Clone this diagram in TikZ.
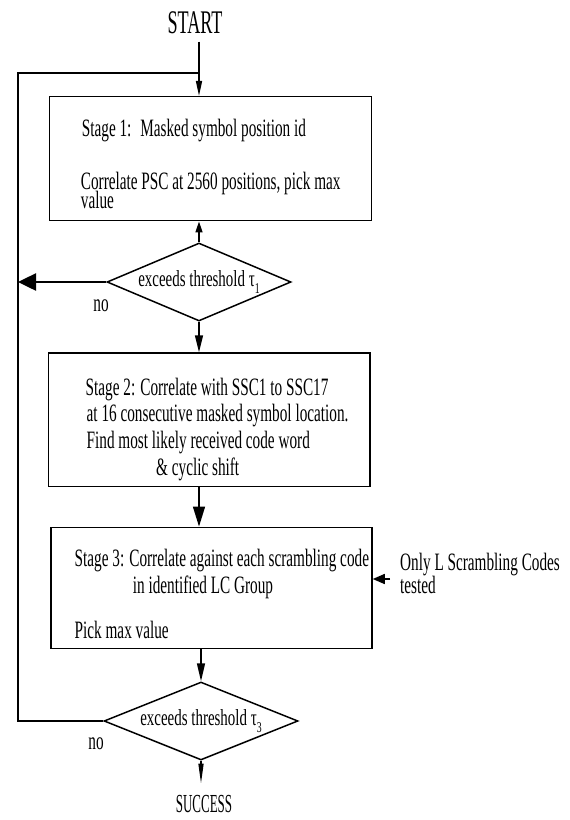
\documentclass[tikz,border=0pt]{standalone}
\usepackage{fontspec}
\setmainfont{Liberation Serif}
\newfontfamily\boxf[FakeStretch=0.61]{Liberation Serif}
\newfontfamily\dmf[FakeStretch=0.65]{Liberation Serif}
\newfontfamily\stf[FakeStretch=0.55]{Liberation Serif}
\newfontfamily\scf[FakeStretch=0.5]{Liberation Serif}
\usetikzlibrary{shapes.geometric,arrows.meta}
\newcommand\lowsub[1]{\raisebox{-0.3em}{\fontsize{15}{15}\selectfont #1}}
\begin{document}
\begin{tikzpicture}[x=1pt,y=-1pt,
  ln/.style={line width=1.5pt},
  box/.style={draw,ln,rectangle,inner sep=0},
  dia/.style={draw,ln,diamond,inner sep=0,aspect=2.36,font=\dmf\fontsize{23}{23}\selectfont},
  txt/.style={inner sep=0,anchor=base west,font=\boxf\fontsize{25}{25}\selectfont}]
\useasboundingbox (0,0) rectangle (570,820);

% boxes
\node[box,minimum width=322.3pt,minimum height=124pt] (b1) at (210.5,158.7) {};
\node[box,minimum width=321.6pt,minimum height=133.5pt] (b2) at (209.2,419.8) {};
\node[box,minimum width=321pt,minimum height=121pt] (b3) at (211.5,587.8) {};

% decisions
\node[dia,minimum width=184pt,minimum height=78pt] (d1) at (199,282) {exceeds threshold τ\lowsub{1}};
\node[dia,minimum width=194pt,minimum height=78pt] (d2) at (201,721) {exceeds threshold τ\lowsub{3}};

% terminals
\node[inner sep=0,anchor=base,font=\stf\fontsize{33}{33}\selectfont] (start) at (195,33) {START};
\node[inner sep=0,anchor=base,font=\scf\fontsize{26}{26}\selectfont] (succ) at (204,812) {SUCCESS};

% box texts
\node[txt] (t11) at (81.7,136.7) {Stage 1:~ Masked symbol position id};
\node[txt] (t12) at (80.7,189) {Correlate PSC at 2560 positions, pick max};
\node[txt] (t13) at (80.7,208) {value};
\node[txt] (t21) at (85.5,395) {Stage 2: Correlate with SSC1 to SSC17};
\node[txt] (t22) at (86.5,421) {at 16 consecutive masked symbol location.};
\node[txt] (t23) at (86.5,448) {Find most likely received code word};
\node[txt] (t24) at (156,475) {\& cyclic shift};
\node[txt] (t31) at (74.5,566) {Stage 3: Correlate against each scrambling code};
\node[txt] (t32) at (132.7,593) {in identified LC Group};
\node[txt] (t33) at (74.5,638) {Pick max value};
\node[txt] (s1) at (400,570) {Only L Scrambling Codes};
\node[txt] (s2) at (400,593) {tested};
\node[txt,anchor=base] (no1) at (101,311) {no};
\node[txt,anchor=base] (no2) at (96,749) {no};

% coordinates
\coordinate (jn) at (199,73);
\coordinate (lt) at (18,73);
\coordinate (sa) at (390,579);

% connectors
\draw[ln,shorten <=8pt,-{Triangle[length=15pt,width=6pt]}] (jn |- start.south) -- (jn |- b1.north);
\draw[ln,-{Triangle[length=11pt,width=7pt]}] (d1.north) -- (d1.north |- b1.south);
\draw[line width=2.5pt,-{Triangle[length=18pt,width=17pt]}] (d1.west) -- (d1.west -| lt);
\draw[ln,-{Triangle[length=17pt,width=8pt]}] (d1.south) -- (d1.south |- b2.north);
\draw[ln,-{Triangle[length=20pt,width=12pt]}] (jn |- b2.south) -- (jn |- b3.north);
\draw[ln,-{Triangle[length=12pt,width=10pt]}] (sa) -- (sa -| b3.east);
\draw[ln,-{Triangle[length=18pt,width=8pt]}] (d2.north |- b3.south) -- (d2.north);
\draw[ln,shorten >=11pt,-{Triangle[length=20pt,width=5pt]}] (d2.south) -- (d2.south |- succ.north);
\draw[ln] (d2.west) -| (lt) -- (jn);
\end{tikzpicture}
\end{document}
